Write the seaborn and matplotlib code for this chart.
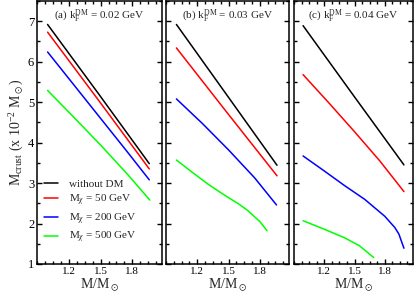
import numpy as np
import pandas as pd
import matplotlib
matplotlib.use("Agg")
import matplotlib.pyplot as plt
from matplotlib.ticker import FixedLocator, MultipleLocator
import seaborn as sns

# ---------------- data ----------------
series_names = ["without DM", "50", "200", "500"]
colors = ["#000000", "#ff0000", "#0000ff", "#00ff00"]
panel_titles = ["(a)", "(b)", "(c)"]
kF_values = ["0.02", "0.03", "0.04"]

# panel (a) kF = 0.02 GeV
a_noDM_M = [1.0, 1.48, 1.96]
a_noDM_y = [6.92, 5.21, 3.48]
a_50_M = [1.0, 1.48, 1.96]
a_50_y = [6.73, 5.05, 3.35]
a_200_M = [1.0, 1.25, 1.5, 1.75, 1.96]
a_200_y = [6.24, 5.42, 4.60, 3.78, 3.08]
a_500_M = [1.0, 1.25, 1.5, 1.75, 1.965]
a_500_y = [5.29, 4.62, 3.94, 3.23, 2.58]

# panel (b) kF = 0.03 GeV
b_noDM_M = [1.0, 1.48, 1.965]
b_noDM_y = [6.92, 5.19, 3.44]
b_50_M = [1.0, 1.48, 1.965]
b_50_y = [6.34, 4.76, 3.18]
b_200_M = [1.0, 1.25, 1.5, 1.75, 1.96]
b_200_y = [5.08, 4.47, 3.82, 3.13, 2.46]
b_500_M = [1.0, 1.15, 1.3, 1.45, 1.6, 1.68, 1.8, 1.87]
b_500_y = [3.57, 3.27, 2.98, 2.72, 2.48, 2.33, 2.05, 1.82]

# panel (c) kF = 0.04 GeV
c_noDM_M = [0.99, 1.5, 1.99]
c_noDM_y = [6.89, 5.13, 3.45]
c_50_M = [0.99, 1.25, 1.5, 1.75, 1.99]
c_50_y = [5.68, 4.97, 4.27, 3.55, 2.79]
c_200_M = [0.99, 1.2, 1.4, 1.6, 1.8, 1.9, 1.94, 1.99]
c_200_y = [3.67, 3.30, 2.94, 2.60, 2.18, 1.90, 1.74, 1.39]
c_500_M = [0.99, 1.2, 1.4, 1.55, 1.69]
c_500_y = [2.07, 1.86, 1.65, 1.45, 1.16]

panels = [
    [(a_noDM_M, a_noDM_y), (a_50_M, a_50_y), (a_200_M, a_200_y), (a_500_M, a_500_y)],
    [(b_noDM_M, b_noDM_y), (b_50_M, b_50_y), (b_200_M, b_200_y), (b_500_M, b_500_y)],
    [(c_noDM_M, c_noDM_y), (c_50_M, c_50_y), (c_200_M, c_200_y), (c_500_M, c_500_y)],
]

x_major = [1.2, 1.5, 1.8]
x_ticklabels = ["1.2", "1.5", "1.8"]
y_major = [1, 2, 3, 4, 5, 6, 7]

# ---------------- style ----------------
sns.set_theme(style="ticks")
plt.rcParams["font.family"] = ["Liberation Serif", "DejaVu Serif"]
plt.rcParams["mathtext.fontset"] = "custom"
plt.rcParams["mathtext.rm"] = "Liberation Serif"
plt.rcParams["mathtext.it"] = "Liberation Serif:italic"
plt.rcParams["mathtext.cal"] = "Liberation Serif"
plt.rcParams["mathtext.fallback"] = "stix"

def label_for(name):
    if name == "without DM":
        return "without DM"
    return r"M$_\chi$ = " + name + " GeV"

fig = plt.figure(figsize=(4.16, 2.99), dpi=100)
W, H = 416.0, 299.0
boxes = [(37, 162), (166, 289), (294, 413)]
top_px, bot_px = 1, 264

for i, (x0, x1) in enumerate(boxes):
    ax = fig.add_axes([x0 / W, 1 - bot_px / H, (x1 - x0) / W, (bot_px - top_px) / H])
    rows = []
    for name, (mm, yy) in zip(series_names, panels[i]):
        for m, y in zip(mm, yy):
            rows.append({"M": m, "Mcrust": y, "series": label_for(name)})
    df = pd.DataFrame(rows)
    sns.lineplot(data=df, x="M", y="Mcrust", hue="series",
                 palette=dict(zip([label_for(n) for n in series_names], colors)),
                 hue_order=[label_for(n) for n in series_names],
                 estimator=None, sort=False, linewidth=1.1, ax=ax,
                 legend=(i == 0))
    ax.set_xlim(0.9, 2.08)
    ax.set_ylim(1, 7.5)
    ax.xaxis.set_major_locator(FixedLocator(x_major))
    ax.set_xticklabels(x_ticklabels)
    ax.xaxis.set_minor_locator(MultipleLocator(0.075))
    ax.yaxis.set_major_locator(FixedLocator(y_major))
    ax.yaxis.set_minor_locator(MultipleLocator(0.5))
    ax.tick_params(which="both", direction="in", top=True, right=True,
                   width=1.0, colors="black")
    ax.tick_params(which="major", length=3.8)
    ax.tick_params(which="minor", length=2.0)
    ax.tick_params(axis="x", labelsize=8, pad=2.5)
    ax.tick_params(axis="y", labelsize=9, pad=2)
    for sp in ax.spines.values():
        sp.set_linewidth(1.1)
        sp.set_color("black")
        sp.set_visible(True)
    if i > 0:
        ax.set_yticklabels([])
        ax.set_ylabel("")
    else:
        ax.set_ylabel(r"M$_\mathrm{crust}$ (x 10$^{-2}$ M$_\odot$)", fontsize=10, labelpad=1)
    ax.set_xlabel(r"M/M$_\odot$", fontsize=10, labelpad=0)
    ax.text(0.5, 0.945, panel_titles[i] + r" k$_\mathrm{F}^\mathrm{DM}$ = " + kF_values[i] + " GeV",
            transform=ax.transAxes, ha="center", va="center", fontsize=8)
    if i == 0:
        leg = ax.legend(loc="lower left", bbox_to_anchor=(0.0, 0.045), frameon=False,
                        fontsize=8, handlelength=1.3, handletextpad=1.0,
                        labelspacing=0.35, borderaxespad=0.2, title=None)

fig.savefig("out.png", dpi=100)
